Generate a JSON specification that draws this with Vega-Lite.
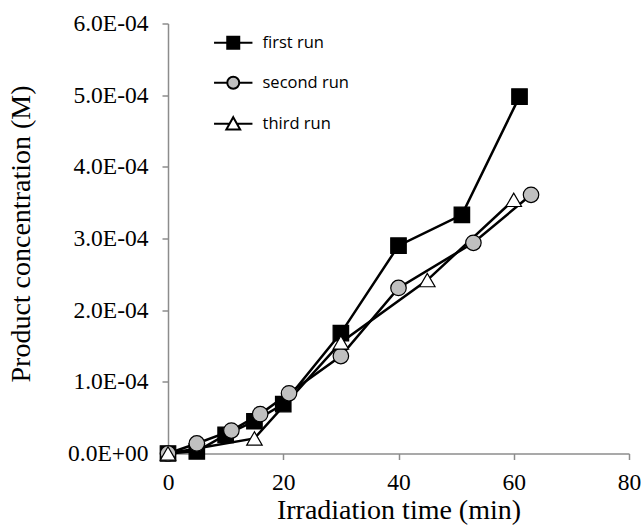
{
  "$schema": "https://vega.github.io/schema/vega-lite/v6.json",
  "autosize": {"type": "none"},
  "width": 461,
  "height": 430,
  "padding": {"left": 168, "top": 23.5, "right": 13, "bottom": 71.5},
  "background": "white",
  "config": {
    "view": {"stroke": null},
    "axis": {
      "labelFont": "Liberation Serif",
      "titleFont": "Liberation Serif",
      "labelFontSize": 23.5,
      "titleFontSize": 28,
      "titleFontWeight": "normal",
      "labelColor": "black",
      "titleColor": "black",
      "domainColor": "#8c8c8c",
      "tickColor": "#8c8c8c",
      "domainWidth": 1.5,
      "tickWidth": 1.5,
      "tickSize": 6,
      "grid": false,
      "labelFlush": false
    },
    "legend": {
      "title": null,
      "orient": "none",
      "legendX": 57,
      "legendY": 11,
      "labelFont": "Open Sans",
      "labelFontSize": 16.5,
      "labelColor": "black",
      "symbolSize": 144,
      "symbolStrokeWidth": 2,
      "symbolOpacity": 1,
      "labelOffset": 21,
      "rowPadding": 19
    }
  },
  "data": {
    "values": [
      {"series": "first run", "t": 0, "c": 0},
      {"series": "first run", "t": 5, "c": 0.000003},
      {"series": "first run", "t": 10, "c": 0.000026},
      {"series": "first run", "t": 15, "c": 0.000045},
      {"series": "first run", "t": 20, "c": 0.000069},
      {"series": "first run", "t": 30, "c": 0.000168},
      {"series": "first run", "t": 40, "c": 0.00029},
      {"series": "first run", "t": 51, "c": 0.000333},
      {"series": "first run", "t": 61, "c": 0.000498},
      {"series": "second run", "t": 0, "c": 0},
      {"series": "second run", "t": 5, "c": 0.000014},
      {"series": "second run", "t": 11, "c": 0.000032},
      {"series": "second run", "t": 16, "c": 0.000055},
      {"series": "second run", "t": 21, "c": 0.000084},
      {"series": "second run", "t": 30, "c": 0.000136},
      {"series": "second run", "t": 40, "c": 0.000231},
      {"series": "second run", "t": 53, "c": 0.000294},
      {"series": "second run", "t": 63, "c": 0.000361},
      {"series": "third run", "t": 0, "c": 0},
      {"series": "third run", "t": 15, "c": 0.000021},
      {"series": "third run", "t": 30, "c": 0.000155},
      {"series": "third run", "t": 45, "c": 0.000242},
      {"series": "third run", "t": 60, "c": 0.000354}
    ]
  },
  "encoding": {
    "x": {
      "field": "t",
      "type": "quantitative",
      "scale": {"domain": [0, 80], "nice": false},
      "axis": {
        "values": [0, 20, 40, 60, 80],
        "title": "Irradiation time (min)",
        "labelBaseline": "alphabetic",
        "labelPadding": 30,
        "titleBaseline": "alphabetic",
        "titleY": 65
      }
    },
    "y": {
      "field": "c",
      "type": "quantitative",
      "scale": {"domain": [0, 0.0006], "nice": false},
      "axis": {
        "values": [0, 0.0001, 0.0002, 0.0003, 0.0004, 0.0005, 0.0006],
        "labelExpr": "datum.value == 0 ? '0.0E+00' : format(datum.value * 10000, '.1f') + 'E-04'",
        "labelPadding": 14,
        "title": "Product concentration (M)",
        "titleX": -133,
        "titleY": 210,
        "titleBaseline": "bottom",
        "titleAngle": -90
      }
    }
  },
  "layer": [
    {
      "mark": {"type": "line", "color": "black", "strokeWidth": 2.5},
      "encoding": {"detail": {"field": "series"}}
    },
    {
      "mark": {"type": "point", "size": 240, "stroke": "black", "strokeWidth": 1.2, "opacity": 1, "filled": true},
      "encoding": {
        "shape": {
          "field": "series",
          "type": "nominal",
          "scale": {"domain": ["first run", "second run", "third run"], "range": ["square", "circle", "triangle-up"]},
          "legend": null
        },
        "fill": {
          "field": "series",
          "type": "nominal",
          "scale": {"domain": ["first run", "second run", "third run"], "range": ["black", "#c0c0c0", "white"]},
          "legend": null
        }
      }
    },
    {
      "transform": [{"filter": "false"}],
      "mark": {"type": "point", "size": 144, "strokeWidth": 2, "opacity": 1, "filled": true},
      "encoding": {
        "shape": {
          "field": "series",
          "type": "nominal",
          "scale": {"domain": ["first run", "second run", "third run"], "range": ["M-3.2,0H-1M1,0H3.2M-1,-1H1V1H-1Z", "M-3.2,0H-1M1,0H3.2M1,0A1,1,0,1,1,-1,0A1,1,0,1,1,1,0Z", "M-3.2,0H-0.55M0.55,0H3.2M0,-1.1L1.15,0.95L-1.15,0.95Z"]}
        },
        "fill": {
          "field": "series",
          "type": "nominal",
          "scale": {"domain": ["first run", "second run", "third run"], "range": ["black", "#c0c0c0", "white"]}
        },
        "stroke": {
          "field": "series",
          "type": "nominal",
          "scale": {"domain": ["first run", "second run", "third run"], "range": ["black", "black", "black"]}
        }
      }
    }
  ],
  "resolve": {"scale": {"shape": "independent", "fill": "independent", "stroke": "independent"}}
}
